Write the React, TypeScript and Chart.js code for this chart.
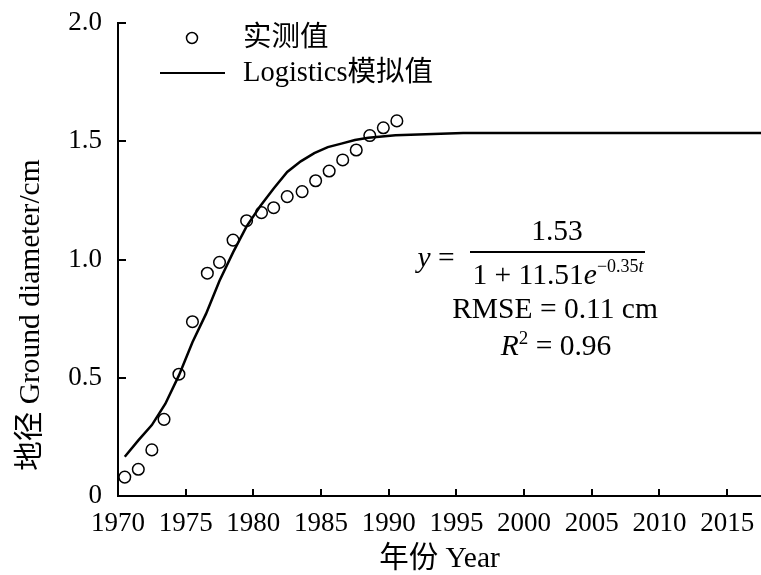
import React, { useEffect, useRef } from "react";
import { Chart, registerables } from "chart.js";

Chart.register(...registerables);

const SERIF = "'Liberation Serif', 'Noto Sans CJK SC', serif";

// Observed ground diameter (cm), one reading per growth year
const observedYears = [
  1970.5, 1971.5, 1972.5, 1973.4, 1974.5, 1975.5, 1976.6, 1977.5, 1978.5, 1979.5, 1980.6,
  1981.5, 1982.5, 1983.6, 1984.6, 1985.6, 1986.6, 1987.6, 1988.6, 1989.6, 1990.6,
];
const observedDiameter = [
  0.08, 0.113, 0.195, 0.324, 0.515, 0.737, 0.942, 0.988, 1.082, 1.164, 1.198,
  1.219, 1.266, 1.287, 1.333, 1.374, 1.421, 1.463, 1.524, 1.557, 1.586,
];

// Logistic model curve
const fittedYears = [
  1970.5, 1971.5, 1972.5, 1973.5, 1974.5, 1975.5, 1976.5, 1977.5, 1978.5, 1979.5, 1980.5,
  1981.5, 1982.5, 1983.5, 1984.5, 1985.5, 1986.5, 1987.5, 1988.5, 1989.5, 1990.5, 1995.5, 2017.5,
];
const fittedDiameter = [
  0.166, 0.235, 0.3, 0.39, 0.51, 0.65, 0.77, 0.91, 1.03, 1.14, 1.225,
  1.3, 1.37, 1.415, 1.45, 1.475, 1.49, 1.505, 1.515, 1.52, 1.525, 1.535, 1.535,
];

const xTicks = [1970, 1975, 1980, 1985, 1990, 1995, 2000, 2005, 2010, 2015];
const yTicks = [0, 0.5, 1, 1.5, 2];
const yTickLabels = ["0", "0.5", "1.0", "1.5", "2.0"];

const observedLabel = "实测值";
const fittedLabel = "Logistics模拟值";
const xTitle = "年份 Year";
const yTitle = "地径 Ground diameter/cm";

const fmt = (size: number, italic = false) => `${italic ? "italic " : ""}${size}px ${SERIF}`;

// Draws a run of text pieces centred on cx; each piece can carry its own font and vertical shift
function drawRun(
  ctx: CanvasRenderingContext2D,
  pieces: { text: string; font: string; dy?: number }[],
  cx: number,
  cy: number
) {
  let total = 0;
  const widths = pieces.map((p) => {
    ctx.font = p.font;
    const w = ctx.measureText(p.text).width;
    total += w;
    return w;
  });
  let x = cx - total / 2;
  pieces.forEach((p, i) => {
    ctx.font = p.font;
    ctx.fillText(p.text, x, cy + (p.dy || 0));
    x += widths[i];
  });
}

const decorations = {
  id: "decorations",
  afterDraw(chart: any) {
    const ctx: CanvasRenderingContext2D = chart.ctx;
    const { left, right, bottom } = chart.chartArea;
    const xs = chart.scales.x;
    const ys = chart.scales.y;
    ctx.save();
    ctx.strokeStyle = "#000";
    ctx.fillStyle = "#000";

    // inward tick marks
    ctx.lineWidth = 2;
    ctx.beginPath();
    xTicks.forEach((v) => {
      const px = Math.round(xs.getPixelForValue(v));
      ctx.moveTo(px, bottom);
      ctx.lineTo(px, bottom - 7);
    });
    yTicks.forEach((v) => {
      const py = Math.round(ys.getPixelForValue(v));
      ctx.moveTo(left, py);
      ctx.lineTo(left + 8, py);
    });
    ctx.stroke();

    // axis titles
    ctx.textBaseline = "middle";
    ctx.textAlign = "center";
    ctx.font = fmt(29.5);
    ctx.fillText(xTitle, (left + right) / 2, 559);
    ctx.save();
    ctx.translate(31, 315);
    ctx.rotate(-Math.PI / 2);
    ctx.fillText(yTitle, 0, 0);
    ctx.restore();

    // legend
    ctx.lineWidth = 1.5;
    ctx.beginPath();
    ctx.arc(192, 38, 5.5, 0, Math.PI * 2);
    ctx.stroke();
    ctx.lineWidth = 2.2;
    ctx.beginPath();
    ctx.moveTo(160, 73);
    ctx.lineTo(225, 73);
    ctx.stroke();
    ctx.textAlign = "left";
    ctx.font = fmt(28.5);
    ctx.fillText(observedLabel, 243, 39);
    ctx.fillText(fittedLabel, 243, 74);

    // model equation and fit statistics
    drawRun(ctx, [
      { text: "y", font: fmt(29.5, true) },
      { text: " =", font: fmt(29.5) },
    ], 436, 259);
    drawRun(ctx, [{ text: "1.53", font: fmt(29.5) }], 557, 232);
    ctx.lineWidth = 2;
    ctx.beginPath();
    ctx.moveTo(470, 252);
    ctx.lineTo(645, 252);
    ctx.stroke();
    drawRun(ctx, [
      { text: "1 + 11.51", font: fmt(29.5) },
      { text: "e", font: fmt(29.5, true) },
      { text: "\u22120.35", font: fmt(18), dy: -9 },
      { text: "t", font: fmt(18, true), dy: -9 },
    ], 558, 276);
    drawRun(ctx, [{ text: "RMSE = 0.11 cm", font: fmt(29.5) }], 555, 310);
    drawRun(ctx, [
      { text: "R", font: fmt(29.5, true) },
      { text: "2", font: fmt(19), dy: -8 },
      { text: " = 0.96", font: fmt(29.5) },
    ], 556, 347);

    ctx.restore();
  },
};

export default function App() {
  const canvasRef = useRef<HTMLCanvasElement | null>(null);

  useEffect(() => {
    const canvas = canvasRef.current;
    if (!canvas) return;
    const chart = new Chart(canvas, {
      type: "scatter",
      data: {
        datasets: [
          {
            label: fittedLabel,
            type: "line",
            data: fittedYears.map((x, i) => ({ x, y: fittedDiameter[i] })),
            borderColor: "#000",
            borderWidth: 2.5,
            pointRadius: 0,
            fill: false,
            tension: 0,
          },
          {
            label: observedLabel,
            data: observedYears.map((x, i) => ({ x, y: observedDiameter[i] })),
            borderColor: "#000",
            backgroundColor: "rgba(0,0,0,0)",
            borderWidth: 1.5,
            pointRadius: 5.8,
            pointStyle: "circle",
          },
        ],
      },
      options: {
        responsive: false,
        animation: false,
        devicePixelRatio: 1,
        layout: { autoPadding: false, padding: { top: 23, right: 0, left: 0, bottom: 0 } },
        plugins: {
          legend: { display: false },
          tooltip: { enabled: false },
        },
        scales: {
          x: {
            type: "linear",
            min: 1970,
            max: 2017.5,
            afterBuildTicks: (scale: any) => {
              scale.ticks = xTicks.map((value) => ({ value }));
            },
            afterFit: (scale: any) => {
              scale.height = 79;
              scale.paddingLeft = 0;
              scale.paddingRight = 0;
            },
            grid: { display: false, drawTicks: false },
            border: { display: true, color: "#000", width: 2 },
            ticks: {
              color: "#000",
              font: { family: SERIF, size: 27 },
              padding: 12,
              maxRotation: 0,
              autoSkip: false,
              callback: (v: any) => String(v),
            },
          },
          y: {
            type: "linear",
            min: 0,
            max: 2,
            afterBuildTicks: (scale: any) => {
              scale.ticks = yTicks.map((value) => ({ value }));
            },
            afterFit: (scale: any) => {
              scale.width = 118;
              scale.paddingTop = 0;
              scale.paddingBottom = 0;
            },
            grid: { display: false, drawTicks: false },
            border: { display: true, color: "#000", width: 2 },
            ticks: {
              color: "#000",
              font: { family: SERIF, size: 27 },
              padding: 16,
              autoSkip: false,
              callback: (_v: any, i: number) => yTickLabels[i],
            },
          },
        },
      },
      plugins: [decorations],
    });
    return () => chart.destroy();
  }, []);

  return (
    <div style={{ position: "absolute", left: 0, top: 0, width: 761, height: 575, background: "#fff" }}>
      <canvas ref={canvasRef} width={761} height={575} />
    </div>
  );
}
